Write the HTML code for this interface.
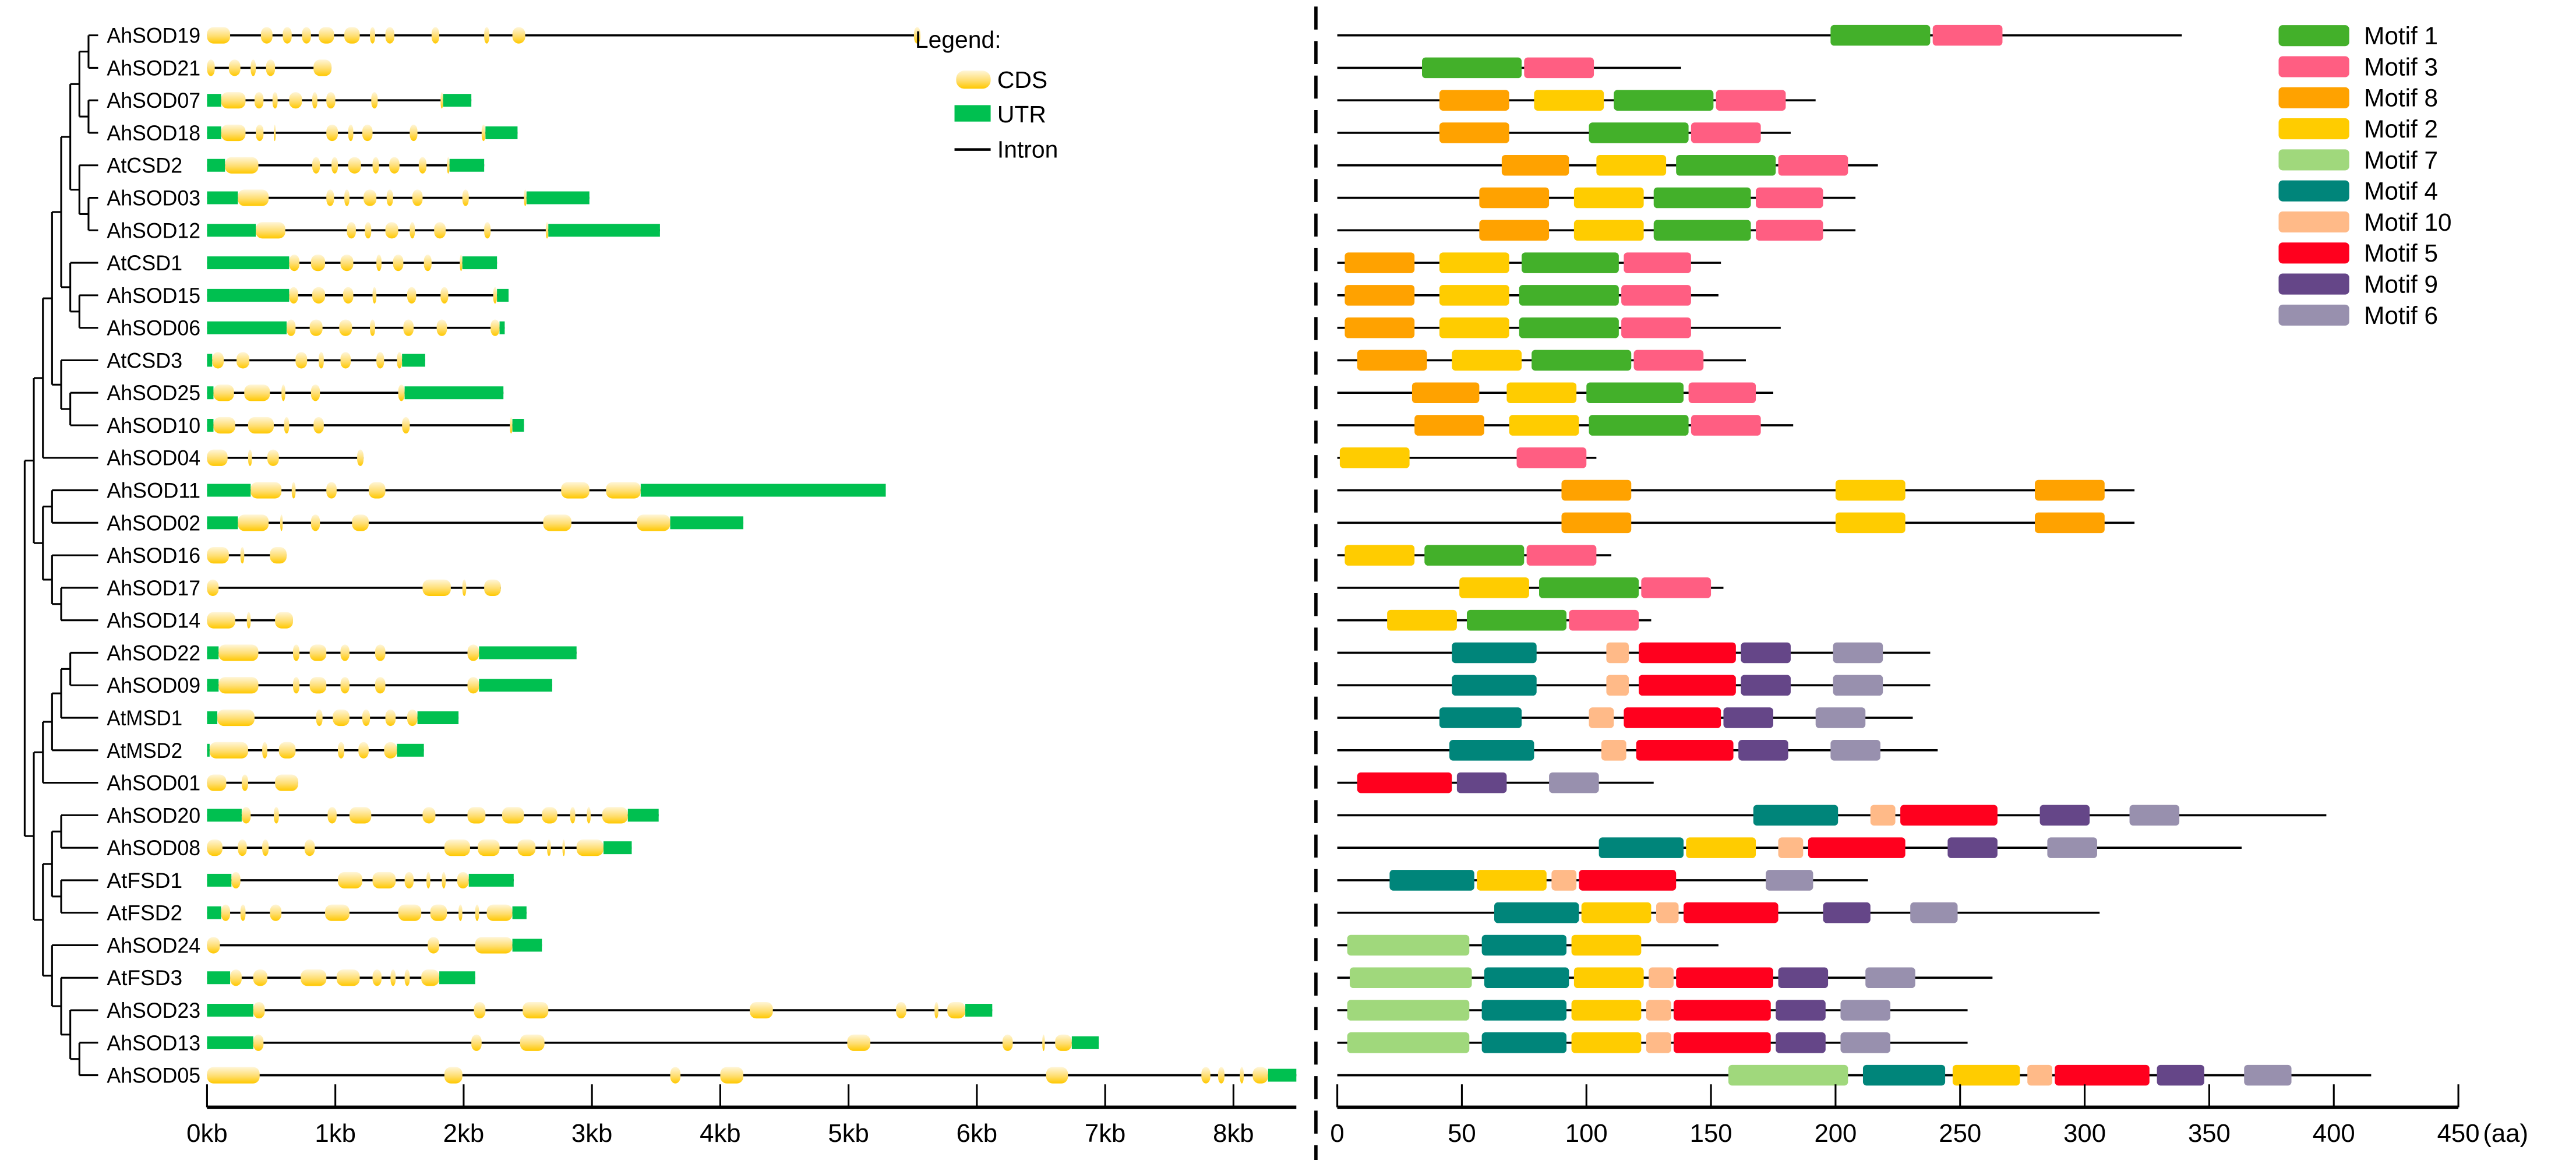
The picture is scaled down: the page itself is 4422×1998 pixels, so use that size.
<!DOCTYPE html>
<html><head><meta charset="utf-8"><title>SOD gene structure and motifs</title>
<style>
html,body{margin:0;padding:0;background:#fff;}
svg{display:block;}
text{font-family:"Liberation Sans",Arial,sans-serif;fill:#000;}
</style></head>
<body>
<svg id="chart" xmlns="http://www.w3.org/2000/svg" width="4422" height="1998" viewBox="0 0 1568 708.5">
<defs>
<linearGradient id="cdsGrad" x1="0" y1="0" x2="0" y2="1">
<stop offset="0" stop-color="#fff6d8"/><stop offset="0.55" stop-color="#ffde70"/><stop offset="1" stop-color="#ffc800"/>
</linearGradient>
</defs>
<rect x="0" y="0" width="1568" height="708.5" fill="#fff"/>
<g id="tree"></g>
<g id="labels"></g>
<g id="genes"></g>
<g id="prots"></g>
<g id="axes"></g>
<line x1="801" y1="4" x2="801" y2="706" stroke="#000" stroke-width="2" stroke-dasharray="14,7"/>
<g>
<text x="557" y="29" font-size="14.5">Legend:</text>
<rect x="582" y="43" width="21" height="11" rx="5" ry="5" fill="url(#cdsGrad)"/>
<text x="607" y="53.5" font-size="14.5">CDS</text>
<rect x="581" y="64" width="22" height="10" fill="#00c050"/>
<text x="607" y="74.5" font-size="14.5">UTR</text>
<line x1="581" y1="91" x2="603" y2="91" stroke="#000" stroke-width="1.6"/>
<text x="607" y="96" font-size="14.5">Intron</text>
</g>
<g id="motifLegend"></g>
</svg>
<script>
const NS = "http://www.w3.org/2000/svg";
const names = ["AhSOD19","AhSOD21","AhSOD07","AhSOD18","AtCSD2","AhSOD03","AhSOD12","AtCSD1","AhSOD15","AhSOD06","AtCSD3","AhSOD25","AhSOD10","AhSOD04","AhSOD11","AhSOD02","AhSOD16","AhSOD17","AhSOD14","AhSOD22","AhSOD09","AtMSD1","AtMSD2","AhSOD01","AhSOD20","AhSOD08","AtFSD1","AtFSD2","AhSOD24","AtFSD3","AhSOD23","AhSOD13","AhSOD05"];
const tree = [[[[[[[[0,1],[2,3]],[4,[5,6]]],[7,[8,9]]],[10,[11,12]]],13],[[14,15],[16,[17,18]]]],[[[[[19,20],21],22],23],[[[24,25],[26,27]],[28,[29,[30,[31,32]]]]]]];
// gene segments in kb: [type, start, end], U = UTR, C = CDS
const geneSegs = [
[["C",0,0.18],["C",0.42,0.51],["C",0.59,0.66],["C",0.74,0.81],["C",0.87,0.99],["C",1.07,1.19],["C",1.27,1.31],["C",1.39,1.46],["C",1.75,1.81],["C",2.16,2.2],["C",2.38,2.48],["C",5.51,5.56]],
[["C",0,0.06],["C",0.17,0.26],["C",0.34,0.38],["C",0.46,0.53],["C",0.83,0.97]],
[["U",0,0.11],["C",0.11,0.3],["C",0.37,0.44],["C",0.51,0.55],["C",0.64,0.74],["C",0.82,0.86],["C",0.93,1.0],["C",1.28,1.33],["C",1.82,1.84],["U",1.84,2.06]],
[["U",0,0.11],["C",0.11,0.3],["C",0.38,0.44],["C",0.52,0.53],["C",0.93,1.02],["C",1.1,1.14],["C",1.21,1.29],["C",1.58,1.64],["C",2.14,2.17],["U",2.17,2.42]],
[["U",0,0.14],["C",0.14,0.4],["C",0.82,0.88],["C",0.97,1.02],["C",1.1,1.2],["C",1.29,1.34],["C",1.42,1.5],["C",1.65,1.71],["C",1.87,1.89],["U",1.89,2.16]],
[["U",0,0.24],["C",0.24,0.48],["C",0.93,0.99],["C",1.07,1.11],["C",1.22,1.32],["C",1.4,1.45],["C",1.6,1.68],["C",1.99,2.04],["C",2.47,2.49],["U",2.49,2.98]],
[["U",0,0.38],["C",0.38,0.61],["C",1.09,1.16],["C",1.23,1.28],["C",1.39,1.49],["C",1.58,1.62],["C",1.77,1.86],["C",2.16,2.21],["C",2.64,2.66],["U",2.66,3.53]],
[["U",0,0.64],["C",0.64,0.72],["C",0.81,0.92],["C",1.04,1.14],["C",1.32,1.36],["C",1.45,1.53],["C",1.69,1.75],["C",1.97,1.99],["U",1.99,2.26]],
[["U",0,0.64],["C",0.64,0.71],["C",0.82,0.92],["C",1.06,1.14],["C",1.29,1.32],["C",1.56,1.63],["C",1.82,1.88],["C",2.23,2.26],["U",2.26,2.35]],
[["U",0,0.62],["C",0.62,0.69],["C",0.8,0.9],["C",1.03,1.13],["C",1.27,1.31],["C",1.53,1.61],["C",1.79,1.87],["C",2.21,2.28],["U",2.28,2.32]],
[["U",0,0.04],["C",0.04,0.13],["C",0.23,0.33],["C",0.69,0.78],["C",0.87,0.91],["C",1.04,1.12],["C",1.32,1.38],["C",1.48,1.52],["U",1.52,1.7]],
[["U",0,0.05],["C",0.05,0.21],["C",0.29,0.49],["C",0.58,0.61],["C",0.81,0.88],["C",1.49,1.54],["U",1.54,2.31]],
[["U",0,0.05],["C",0.05,0.22],["C",0.32,0.52],["C",0.6,0.64],["C",0.83,0.91],["C",1.52,1.58],["C",2.36,2.38],["U",2.38,2.47]],
[["C",0,0.16],["C",0.32,0.35],["C",0.47,0.56],["C",1.17,1.22]],
[["U",0,0.34],["C",0.34,0.58],["C",0.66,0.69],["C",0.93,1.01],["C",1.26,1.39],["C",2.76,2.98],["C",3.11,3.38],["U",3.38,5.29]],
[["U",0,0.24],["C",0.24,0.48],["C",0.57,0.59],["C",0.81,0.88],["C",1.13,1.26],["C",2.62,2.84],["C",3.35,3.61],["U",3.61,4.18]],
[["C",0,0.17],["C",0.26,0.29],["C",0.49,0.62]],
[["C",0,0.09],["C",1.68,1.9],["C",1.99,2.02],["C",2.16,2.29]],
[["C",0,0.22],["C",0.31,0.34],["C",0.53,0.67]],
[["U",0,0.09],["C",0.09,0.4],["C",0.67,0.72],["C",0.8,0.93],["C",1.04,1.11],["C",1.31,1.39],["C",2.03,2.12],["U",2.12,2.88]],
[["U",0,0.09],["C",0.09,0.4],["C",0.67,0.72],["C",0.8,0.93],["C",1.04,1.11],["C",1.31,1.39],["C",2.03,2.12],["U",2.12,2.69]],
[["U",0,0.08],["C",0.08,0.37],["C",0.85,0.9],["C",0.98,1.11],["C",1.21,1.27],["C",1.39,1.47],["C",1.56,1.64],["U",1.64,1.96]],
[["U",0,0.02],["C",0.02,0.32],["C",0.43,0.47],["C",0.56,0.69],["C",1.02,1.07],["C",1.18,1.26],["C",1.38,1.48],["U",1.48,1.69]],
[["C",0,0.15],["C",0.27,0.32],["C",0.53,0.71]],
[["U",0,0.27],["C",0.27,0.34],["C",0.52,0.56],["C",0.94,1.01],["C",1.11,1.28],["C",1.68,1.78],["C",2.03,2.17],["C",2.3,2.47],["C",2.61,2.73],["C",2.83,2.87],["C",2.96,2.99],["C",3.08,3.28],["U",3.28,3.52]],
[["C",0,0.12],["C",0.24,0.31],["C",0.43,0.48],["C",0.76,0.84],["C",1.85,2.05],["C",2.11,2.28],["C",2.42,2.56],["C",2.65,2.68],["C",2.77,2.79],["C",2.88,3.09],["U",3.09,3.31]],
[["U",0,0.19],["C",0.19,0.26],["C",1.02,1.21],["C",1.29,1.47],["C",1.54,1.61],["C",1.71,1.74],["C",1.83,1.86],["C",1.95,2.04],["U",2.04,2.39]],
[["U",0,0.11],["C",0.11,0.18],["C",0.26,0.3],["C",0.49,0.58],["C",0.92,1.11],["C",1.49,1.67],["C",1.74,1.87],["C",1.96,1.99],["C",2.09,2.12],["C",2.18,2.38],["U",2.38,2.49]],
[["C",0,0.1],["C",1.72,1.81],["C",2.09,2.38],["U",2.38,2.61]],
[["U",0,0.18],["C",0.18,0.27],["C",0.36,0.47],["C",0.73,0.93],["C",1.01,1.19],["C",1.29,1.36],["C",1.43,1.47],["C",1.54,1.58],["C",1.67,1.81],["U",1.81,2.09]],
[["U",0,0.36],["C",0.36,0.45],["C",2.08,2.17],["C",2.46,2.66],["C",4.23,4.41],["C",5.37,5.45],["C",5.67,5.7],["C",5.77,5.91],["U",5.91,6.12]],
[["U",0,0.36],["C",0.36,0.44],["C",2.06,2.14],["C",2.44,2.63],["C",4.99,5.17],["C",6.2,6.28],["C",6.51,6.53],["C",6.61,6.74],["U",6.74,6.95]],
[["C",0,0.41],["C",1.85,1.99],["C",3.61,3.69],["C",4.0,4.18],["C",6.54,6.71],["C",7.75,7.82],["C",7.88,7.93],["C",8.05,8.08],["C",8.15,8.27],["U",8.27,8.49]]
];
const protLen = [339,138,192,182,217,208,208,154,153,178,164,175,183,104,320,320,110,155,126,238,238,231,241,127,397,363,213,306,153,263,253,253,415];
// motifs per protein: [motif number, start aa, end aa]
const protMotifs = [
[[1,198,238],[3,239,267]],
[[1,34,74],[3,75,103]],
[[8,41,69],[2,79,107],[1,111,151],[3,152,180]],
[[8,41,69],[1,101,141],[3,142,170]],
[[8,66,93],[2,104,132],[1,136,176],[3,177,205]],
[[8,57,85],[2,95,123],[1,127,166],[3,168,195]],
[[8,57,85],[2,95,123],[1,127,166],[3,168,195]],
[[8,3,31],[2,41,69],[1,74,113],[3,115,142]],
[[8,3,31],[2,41,69],[1,73,113],[3,114,142]],
[[8,3,31],[2,41,69],[1,73,113],[3,114,142]],
[[8,8,36],[2,46,74],[1,78,118],[3,119,147]],
[[8,30,57],[2,68,96],[1,100,139],[3,141,168]],
[[8,31,59],[2,69,97],[1,101,141],[3,142,170]],
[[2,1,29],[3,72,100]],
[[8,90,118],[2,200,228],[8,280,308]],
[[8,90,118],[2,200,228],[8,280,308]],
[[2,3,31],[1,35,75],[3,76,104]],
[[2,49,77],[1,81,121],[3,122,150]],
[[2,20,48],[1,52,92],[3,93,121]],
[[4,46,80],[10,108,117],[5,121,160],[9,162,182],[6,199,219]],
[[4,46,80],[10,108,117],[5,121,160],[9,162,182],[6,199,219]],
[[4,41,74],[10,101,111],[5,115,154],[9,155,175],[6,192,212]],
[[4,45,79],[10,106,116],[5,120,159],[9,161,181],[6,198,218]],
[[5,8,46],[9,48,68],[6,85,105]],
[[4,167,201],[10,214,224],[5,226,265],[9,282,302],[6,318,338]],
[[4,105,139],[2,140,168],[10,177,187],[5,189,228],[9,245,265],[6,285,305]],
[[4,21,55],[2,56,84],[10,86,96],[5,97,136],[6,172,191]],
[[4,63,97],[2,98,126],[10,128,137],[5,139,177],[9,195,214],[6,230,249]],
[[7,4,53],[4,58,92],[2,94,122]],
[[7,5,54],[4,59,93],[2,95,123],[10,125,135],[5,136,175],[9,177,197],[6,212,232]],
[[7,4,53],[4,58,92],[2,94,122],[10,124,134],[5,135,174],[9,176,196],[6,202,222]],
[[7,4,53],[4,58,92],[2,94,122],[10,124,134],[5,135,174],[9,176,196],[6,202,222]],
[[7,157,205],[4,211,244],[2,247,274],[10,277,287],[5,288,326],[9,329,348],[6,364,383]]
];
const legendMotifs = [1,3,8,2,7,4,10,5,9,6];
const kbTicks = [0,1,2,3,4,5,6,7,8];
const aaTicks = [0,50,100,150,200,250,300,350,400,450];
const motifColors = {1:"#43b02a",2:"#ffcc00",3:"#ff5e82",4:"#00857a",5:"#ff001e",6:"#9890ae",7:"#a0d87c",8:"#ffa200",9:"#654688",10:"#ffba88"};

// scales
const rowY = i => 21.5 + i * 19.78;
const kbX = kb => 126 + kb * 78.1;
const aaX = aa => 814 + aa * 1.5165;
const depthX = d => 15 + d * 5.55;
const TIP_X = 59.7;

function mk(tag, attrs, parent) {
  const el = document.createElementNS(NS, tag);
  for (const k in attrs) el.setAttribute(k, attrs[k]);
  parent.appendChild(el);
  return el;
}

// tree
const gTree = document.getElementById("tree");
function drawNode(node, depth) {
  if (typeof node === "number") return { y: rowY(node), x: TIP_X };
  const x = depthX(depth);
  const kids = node.map(c => drawNode(c, depth + 1));
  kids.forEach(k => {
    const h = mk("line", { x1: x, y1: k.y, x2: k.x, y2: k.y, stroke: "#000", "stroke-width": 1.1 }, gTree);
    
    
  });
  const ys = kids.map(k => k.y);
  const v = mk("line", { x1: x, y1: Math.min(...ys), x2: x, y2: Math.max(...ys), stroke: "#000", "stroke-width": 1.1 }, gTree);
  
  
  return { y: (Math.min(...ys) + Math.max(...ys)) / 2, x: x };
}
drawNode(tree, 0);

// labels, gene structures, proteins
const gLab = document.getElementById("labels");
const gGen = document.getElementById("genes");
const gPro = document.getElementById("prots");
names.forEach((nm, i) => {
  const y = rowY(i);
  const t = mk("text", { x: 65, y: y + 4.6, "font-size": 13 }, gLab);
  t.textContent = nm;
  const tw = nm.startsWith("At") ? 46 : 57;
  t.setAttribute("textLength", tw);
  t.setAttribute("lengthAdjust", "spacingAndGlyphs");
  
  

  const segs = geneSegs[i];
  const g = mk("g", {}, gGen);
  
  
  const s0 = Math.min(...segs.map(s => s[1])), s1 = Math.max(...segs.map(s => s[2]));
  const ln = mk("line", { x1: kbX(s0), y1: y, x2: kbX(s1), y2: y, stroke: "#000", "stroke-width": 1.3 }, g);
  
  
  segs.forEach(s => {
    const x = kbX(s[1]), w = Math.max(kbX(s[2]) - x, 1.2);
    if (s[0] === "U") {
      const r = mk("rect", { x: x, y: y - 3.9, width: w, height: 7.8, fill: "#00c050" }, g);
      
      
    } else {
      const r = mk("rect", { x: x, y: y - 5, width: w, height: 10, rx: Math.min(w / 2, 4), ry: 4, fill: "url(#cdsGrad)" }, g);
      
      
    }
  });

  const gp = mk("g", {}, gPro);
  
  
  const pl = mk("line", { x1: aaX(0), y1: y, x2: aaX(protLen[i]), y2: y, stroke: "#000", "stroke-width": 1.3 }, gp);
  
  
  protMotifs[i].forEach(m => {
    const x = aaX(m[1]), w = aaX(m[2]) - x;
    const r = mk("rect", { x: x, y: y - 6.3, width: w, height: 12.6, rx: 2.2, ry: 2.2, fill: motifColors[m[0]] }, gp);
    
    
  });
});

// axes
const gAx = document.getElementById("axes");
const AXY = 674;
let a1 = mk("line", { x1: kbX(0), y1: AXY, x2: kbX(8.49), y2: AXY, stroke: "#000", "stroke-width": 2.2 }, gAx);


kbTicks.forEach(k => {
  const tk = mk("line", { x1: kbX(k), y1: AXY - 14, x2: kbX(k), y2: AXY, stroke: "#000", "stroke-width": 1.1 }, gAx);
  
  
  const tl = mk("text", { x: kbX(k), y: 695, "font-size": 15.5, "text-anchor": "middle" }, gAx);
  tl.textContent = k + "kb";
  
  
});
let a2 = mk("line", { x1: aaX(0), y1: AXY, x2: aaX(450), y2: AXY, stroke: "#000", "stroke-width": 2.2 }, gAx);


aaTicks.forEach(v => {
  const tk = mk("line", { x1: aaX(v), y1: AXY - 14, x2: aaX(v), y2: AXY, stroke: "#000", "stroke-width": 1.1 }, gAx);
  
  
  const tl = mk("text", { x: aaX(v), y: 695, "font-size": 15.5, "text-anchor": "middle" }, gAx);
  tl.textContent = String(v);
  
  
});
const unit = mk("text", { x: aaX(450) + 15, y: 695, "font-size": 15.5 }, gAx);
unit.textContent = "(aa)";



// motif legend
const gML = document.getElementById("motifLegend");
legendMotifs.forEach((m, i) => {
  const y = 21.7 + i * 18.9;
  const r = mk("rect", { x: 1387, y: y - 6.4, width: 43, height: 12.8, rx: 2.5, ry: 2.5, fill: motifColors[m] }, gML);
  
  
  const t = mk("text", { x: 1439, y: y + 5.3, "font-size": 15 }, gML);
  t.textContent = "Motif " + m;
  
  
});
</script>
</body></html>
